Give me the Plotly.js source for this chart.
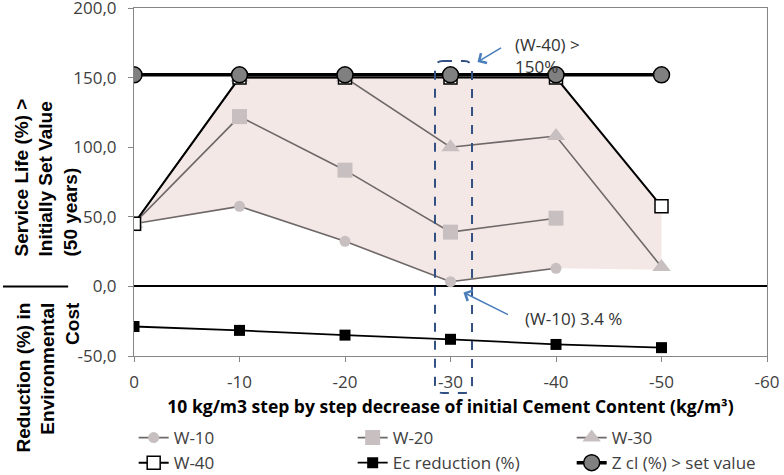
<!DOCTYPE html>
<html>
<head>
<meta charset="utf-8">
<script src="https://cdn.plot.ly/plotly-3.0.1.min.js"></script>
<style>
  html, body { margin: 0; padding: 0; background: #fff; }
  #chart { width: 784px; height: 475px; }
</style>
</head>
<body>
<div id="chart"></div>
<script>
// ---- data ----
const cementStep = [0, -10, -20, -30, -40, -50];
const w10 = [45, 57.5, 32.4, 3.4, 13, null];
const w20 = [45, 122, 83.5, 39, 49, null];
const w30 = [45, 150, 150, 100, 108, 14];
const w40 = [45, 150, 150, 150, 150, 57.5];
const ecReduction = [-28.8, -31.6, -35, -38, -41.7, -44];
const zclSetValue = [152, 152, 152, 152, 152, 152];
const fillLower = [45, 57.5, 32.4, 3.4, 13, 12];

const xTickVals = [0, -10, -20, -30, -40, -50, -60];
const xTickText = ["0", "-10", "-20", "-30", "-40", "-50", "-60"];
const yTickVals = [-50, 0, 50, 100, 150, 200];
const yTickText = ["-50,0", "0,0", "50,0", "100,0", "150,0", "200,0"];

// ---- style ----
const lineGrey = "rgb(110,104,104)";
const markGrey = "rgb(200,192,192)";
const tickFont = { family: "Open Sans", size: 17, color: "#404040" };

const fillX = cementStep.concat(cementStep.slice().reverse());
const fillY = w40.concat(fillLower.slice().reverse());

const traces = [
  { x: fillX, y: fillY, type: "scatter", mode: "lines", fill: "toself",
    fillcolor: "rgb(243,232,230)", line: { width: 0 }, showlegend: false, hoverinfo: "skip" },
  { x: cementStep, y: w10, name: "W-10", type: "scatter", mode: "lines+markers",
    line: { color: lineGrey, width: 1.6 }, marker: { symbol: "circle", size: 11, color: markGrey } },
  { x: cementStep, y: w20, name: "W-20", type: "scatter", mode: "lines+markers",
    line: { color: lineGrey, width: 1.6 }, marker: { symbol: "square", size: 15, color: markGrey } },
  { x: cementStep, y: w30, name: "W-30", type: "scatter", mode: "lines+markers",
    line: { color: lineGrey, width: 1.6 }, marker: { symbol: "triangle-up", size: 16, color: markGrey } },
  { x: cementStep, y: w40, name: "W-40", type: "scatter", mode: "lines+markers",
    line: { color: "#000", width: 2 }, marker: { symbol: "square", size: 13, color: "#fff", line: { color: "#000", width: 1.5 } } },
  { x: cementStep, y: ecReduction, name: "Ec reduction (%)", type: "scatter", mode: "lines+markers",
    line: { color: "#000", width: 1.8 }, marker: { symbol: "square", size: 11, color: "#000" } },
  { x: cementStep, y: zclSetValue, name: "Z cl (%) > set value", type: "scatter", mode: "lines+markers",
    line: { color: "#000", width: 3.5 }, marker: { symbol: "circle", size: 16, color: "rgb(128,128,128)", line: { color: "#000", width: 1.5 } } }
];

// dashed rounded rectangle (paper coords)
const x0 = 0.4755, x1 = 0.534, y0 = -0.1063, y1 = 0.8477, rx = 0.0126, ry = 0.023;
const rectPath = `M${x0+rx},${y1} L${x1-rx},${y1} Q${x1},${y1} ${x1},${y1-ry} L${x1},${y0+ry} Q${x1},${y0} ${x1-rx},${y0} L${x0+rx},${y0} Q${x0},${y0} ${x0},${y0+ry} L${x0},${y1-ry} Q${x0},${y1} ${x0+rx},${y1} Z`;

const layout = {
  width: 784, height: 475,
  margin: { l: 134, r: 17, t: 8, b: 119, autoexpand: false },
  paper_bgcolor: "#fff", plot_bgcolor: "#fff",
  showlegend: true,
  xaxis: {
    range: [0, -60], tickvals: xTickVals, ticktext: xTickText, automargin: false,
    showgrid: false, zeroline: false, showline: true, mirror: true,
    linecolor: "#868686", linewidth: 1, ticks: "outside", ticklen: 5, tickcolor: "#868686",
    tickfont: tickFont, ticklabelstandoff: 6,
    title: { text: "10 kg/m3 step by step decrease of initial Cement Content (kg/m³)",
      font: { family: "Open Sans", size: 17.5, color: "#000", weight: "bold" }, standoff: 8 }
  },
  yaxis: {
    range: [-50, 200], tickvals: yTickVals, ticktext: yTickText, automargin: false,
    showgrid: false, zeroline: true, zerolinecolor: "#000", zerolinewidth: 2,
    showline: true, mirror: true, linecolor: "#868686", linewidth: 1,
    ticks: "outside", ticklen: 5, tickcolor: "#868686", ticklabeloverflow: "allow",
    tickfont: tickFont, ticklabelstandoff: 8
  },
  legend: {
    orientation: "h", x: -0.0005, xanchor: "left", y: -0.184, yanchor: "top",
    entrywidth: 174, entrywidthmode: "pixels",
    font: { family: "Open Sans", size: 17, color: "#404040" },
    bgcolor: "rgba(0,0,0,0)", tracegroupgap: 0
  },
  shapes: [
    { type: "path", xref: "paper", yref: "paper", path: rectPath,
      line: { color: "rgb(50,80,130)", width: 2, dash: "dash" }, layer: "above" },
    { type: "line", xref: "paper", yref: "y", x0: -0.207, x1: -0.104, y0: 0, y1: 0,
      line: { color: "#000", width: 2 } }
  ],
  annotations: [
    { xref: "paper", yref: "paper", x: -0.139, y: 0.513, xanchor: "center", yanchor: "middle",
      text: "Service Life (%) ><br>Initially Set Value<br>(50 years)", textangle: -90, align: "left",
      showarrow: false, font: { family: "Liberation Sans", size: 19, color: "#000", weight: "bold" } },
    { xref: "paper", yref: "paper", x: -0.1374, y: -0.0618, xanchor: "center", yanchor: "middle",
      text: "Reduction (%) in<br>Environmental<br>Cost", textangle: -90, align: "right",
      showarrow: false, font: { family: "Liberation Sans", size: 19, color: "#000", weight: "bold" } },
    { xref: "paper", yref: "paper", x: 0.5987, y: 0.935, xanchor: "left", yanchor: "top",
      text: "(W-40) ><br>150%", align: "left", showarrow: false,
      font: { family: "Open Sans", size: 17, color: "#333" } },
    { xref: "paper", yref: "paper", x: 0.6145, y: 0.109, xanchor: "left", yanchor: "middle",
      text: "(W-10) 3.4 %", align: "left", showarrow: false,
      font: { family: "Open Sans", size: 17, color: "#333" } },
    { xref: "x", yref: "y", x: -32.56, y: 161.2, ax: 25, ay: -15, text: "", showarrow: true,
      arrowhead: 4, arrowsize: 1.4, arrowwidth: 1.6, arrowcolor: "rgb(74,126,187)" },
    { xref: "x", yref: "y", x: -31.23, y: -4.3, ax: 46, ay: 23, text: "", showarrow: true,
      arrowhead: 4, arrowsize: 1.4, arrowwidth: 1.6, arrowcolor: "rgb(74,126,187)" }
  ]
};

Plotly.newPlot("chart", traces, layout, { staticPlot: true, displayModeBar: false });
</script>
</body>
</html>
